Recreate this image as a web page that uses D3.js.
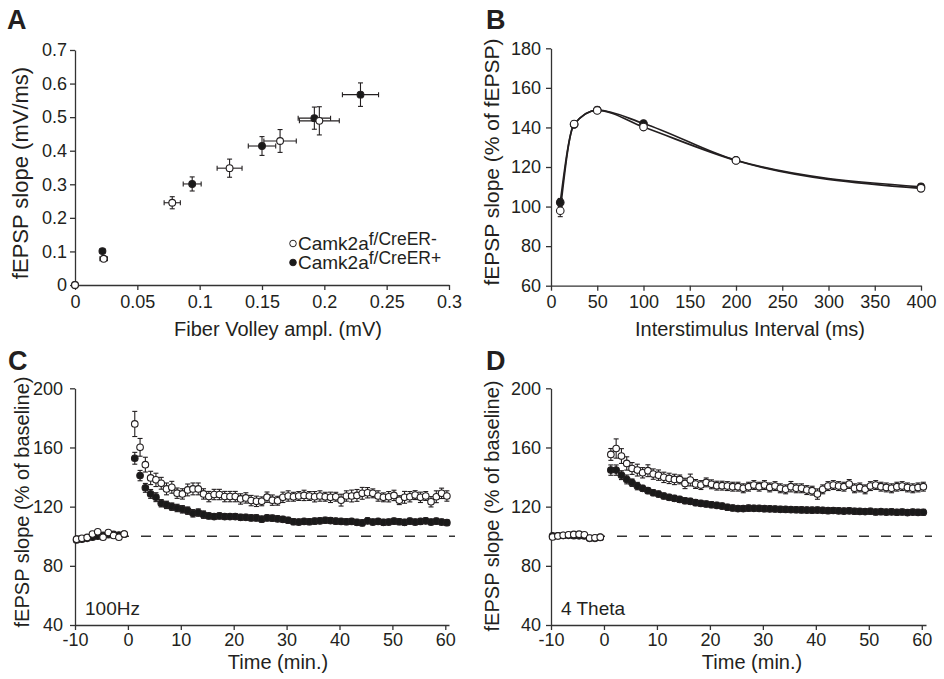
<!DOCTYPE html>
<meta charset="utf-8">
<title>fEPSP panels A-D</title>
<script src="https://d3js.org/d3.v7.min.js"></script>
<style>
  body { margin: 0; background: #fff; }
  svg { font-family: "Liberation Sans", Arial, sans-serif; }
  .axis path, .axis line { stroke: #333; stroke-width: 1.3; }
  .axis text { font-size: 18px; fill: #231f20; font-family: "Liberation Sans", Arial, sans-serif; }
  .title { font-size: 20px; fill: #231f20; }
  .letter { font-size: 27px; font-weight: bold; fill: #231f20; }
  .note { font-size: 19px; fill: #231f20; }
</style>
<body>
<svg class=fig width=944 height=679></svg>
<script>

// ---- panel A : input/output ----
var fvOpen = [0, 0.023, 0.078, 0.124, 0.1645, 0.196];
var fvOpenErr = [0, 0.003, 0.0065, 0.010, 0.013, 0.016];
var slopeOpen = [0, 0.078, 0.245, 0.348, 0.429, 0.489];
var slopeOpenErr = [0, 0.005, 0.018, 0.027, 0.034, 0.042];
var fvFilled = [0, 0.022, 0.094, 0.150, 0.192, 0.229];
var fvFilledErr = [0, 0.002, 0.0072, 0.011, 0.013, 0.0145];
var slopeFilled = [0, 0.101, 0.301, 0.414, 0.497, 0.567];
var slopeFilledErr = [0, 0.005, 0.021, 0.028, 0.033, 0.035];
var aXTicks = [0, 0.05, 0.1, 0.15, 0.2, 0.25, 0.3];
var aYTicks = [0, 0.1, 0.2, 0.3, 0.4, 0.5, 0.6, 0.7];

// ---- panel B : paired pulse ----
var isi = [10, 25, 50, 100, 200, 400];
var ppfOpen = [97.9, 141.7, 148.6, 140.2, 123.3, 109.2];
var ppfOpenErr = [3, 1.5, 1.5, 1.5, 1, 1.5];
var ppfFilled = [102.1, 141.5, 148.8, 142.0, 123.4, 110.0];
var ppfFilledErr = [2, 1.5, 1.5, 1.5, 1, 1.5];
var bXTicks = [0, 50, 100, 150, 200, 250, 300, 350, 400];
var bYTicks = [60, 80, 100, 120, 140, 160, 180];

// ---- panels C and D : LTP time courses ----
var baseTimes = [-9.7, -8.7, -7.7, -6.7, -5.7, -4.7, -3.7, -2.7, -1.7, -0.7];
var postTimes = [1.3, 2.3, 3.3, 4.3, 5.3, 6.3, 7.3, 8.3, 9.3, 10.3,
  11.3, 12.3, 13.3, 14.3, 15.3, 16.3, 17.3, 18.3, 19.3, 20.3,
  21.3, 22.3, 23.3, 24.3, 25.3, 26.3, 27.3, 28.3, 29.3, 30.3,
  31.3, 32.3, 33.3, 34.3, 35.3, 36.3, 37.3, 38.3, 39.3, 40.3,
  41.3, 42.3, 43.3, 44.3, 45.3, 46.3, 47.3, 48.3, 49.3, 50.3,
  51.3, 52.3, 53.3, 54.3, 55.3, 56.3, 57.3, 58.3, 59.3, 60.3];
var timeTicks = [-10, 0, 10, 20, 30, 40, 50, 60];
var ltpYTicks = [40, 80, 120, 160, 200];

// C : 100Hz
var cBaseOpen = [98.0, 98.6, 99.2, 101.5, 103.0, 99.3, 102.5, 100.5, 99.3, 101.5];
var cBaseFilled = [97.5, 98.0, 98.6, 99.3, 100.0, 100.6, 101.0, 101.2, 100.8, 101.4];
var cBaseErr = [1, 1, 1, 1, 1, 1, 1, 1, 1, 1];
var cOpen = [175.9, 160.1, 148.4, 139.4, 138.1, 135.8, 132.0, 133.1, 129.1, 128.6,
  131.3, 132.0, 132.0, 128.6, 126.8, 128.2, 128.2, 126.8, 126.8, 126.8,
  125.2, 125.9, 124.1, 123.6, 123.6, 126.4, 124.4, 124.0, 126.3, 127.2,
  126.7, 127.2, 127.6, 127.2, 126.7, 127.2, 126.7, 126.3, 126.7, 124.4,
  127.2, 127.2, 127.6, 129.0, 129.4, 129.0, 127.2, 126.3, 126.7, 127.6,
  124.4, 126.3, 126.7, 127.8, 126.3, 127.2, 123.3, 126.7, 129.0, 127.2];
var cOpenErr = [8.5, 6, 5, 4.5, 4.5, 4, 4, 4, 3.5, 3.5,
  4, 4, 4, 3.5, 3.5, 3.5, 3.5, 3.5, 3.5, 3.5,
  3.5, 3.5, 3.5, 3.5, 3, 3.5, 3.5, 3, 3.5, 3.5,
  3, 3, 3.5, 3, 3.5, 3.5, 3, 3.5, 3, 4,
  3.5, 4, 4, 4, 3.5, 3, 3.5, 3, 3.5, 3.5,
  3, 4, 3.5, 3, 3.5, 3, 3.5, 4, 3.5, 3.5];
var cFilled = [152.7, 141.0, 132.7, 128.6, 126.4, 122.3, 121.2, 120.0, 119.1, 118.2,
  117.3, 115.5, 116.0, 114.6, 113.7, 113.3, 113.7, 113.3, 113.3, 113.3,
  112.8, 112.8, 112.4, 112.4, 111.5, 112.4, 112.2, 111.8, 111.4, 110.8,
  109.8, 109.6, 110.0, 109.8, 110.2, 110.4, 110.8, 110.6, 110.2, 110.0,
  109.8, 110.0, 109.4, 109.0, 110.4, 109.6, 110.0, 109.4, 109.6, 110.2,
  109.8, 109.4, 110.2, 109.6, 110.0, 110.4, 109.6, 110.2, 109.6, 109.2];
var cFilledErr = [4, 3.5, 3, 3, 3, 2.5, 2.5, 2.5, 2.5, 2.5,
  2.5, 2.5, 2.5, 2.5, 2, 2, 2, 2, 2, 2,
  2, 2, 2, 2, 2, 2, 2, 2, 2, 2,
  2, 2, 2, 2, 2, 2, 2, 2, 2, 2,
  2, 2, 2, 2, 2, 2, 2, 2, 2, 2,
  2, 2, 2, 2, 2, 2, 2, 2, 2, 2];

// D : 4 theta
var dBaseOpen = [99.5, 100.2, 100.6, 101.0, 101.2, 101.4, 101.0, 98.8, 98.9, 99.4];
var dBaseFilled = [100.2, 100.3, 100.5, 100.6, 100.4, 100.3, 100.2, 98.6, 98.6, 99.2];
var dBaseErr = [1, 1, 1, 1, 1, 1, 1, 1, 1, 1];
var dOpen = [155.3, 159.3, 154.2, 149.2, 145.8, 144.7, 142.9, 144.3, 142.0, 141.3,
  139.8, 139.1, 138.4, 138.4, 135.7, 138.0, 135.3, 134.6, 136.4, 135.1,
  134.2, 134.2, 133.9, 133.5, 133.5, 132.4, 133.5, 134.6, 133.5, 134.6,
  133.0, 133.9, 132.4, 131.7, 133.5, 132.4, 132.4, 131.2, 130.8, 128.5,
  131.7, 133.9, 134.6, 133.9, 133.5, 135.3, 132.4, 133.0, 131.7, 133.9,
  134.6, 133.5, 133.0, 132.4, 133.5, 133.9, 133.0, 132.4, 133.0, 133.5];
var dOpenErr = [4, 6.5, 5, 4.5, 4, 4, 3.5, 4, 3.5, 3.5,
  3.5, 3.5, 3.5, 3, 3.5, 4, 3, 3, 3, 3,
  3, 3, 3, 3, 3, 3, 3, 3, 3, 3,
  3, 3, 3, 3, 3.5, 3, 3, 3, 3, 3.5,
  3, 3, 3, 3, 3, 3, 3, 3, 3, 3,
  3, 3, 3, 3, 3, 3, 3, 3, 3, 3];
var dFilled = [144.7, 144.7, 141.3, 138.4, 136.2, 133.9, 132.4, 130.8, 129.4, 128.5,
  127.2, 126.3, 125.6, 124.9, 124.0, 123.6, 122.7, 122.2, 121.8, 121.3,
  120.9, 120.4, 119.6, 119.1, 118.7, 118.7, 119.0, 118.9, 118.8, 118.6,
  118.5, 118.4, 118.2, 118.1, 118.0, 117.9, 117.8, 117.7, 117.6, 117.7,
  117.5, 117.3, 117.4, 117.2, 117.0, 117.2, 116.9, 116.8, 116.7, 116.9,
  116.4, 116.6, 116.3, 116.5, 116.2, 116.4, 116.0, 116.3, 116.1, 116.2];
var dFilledErr = [3.5, 3.5, 3, 3, 2.5, 2.5, 2, 2, 2, 2,
  2, 2, 2, 2, 2, 2, 2, 2, 2, 2,
  2, 2, 2, 2, 2, 2, 2, 2, 2, 2,
  2, 2, 2, 2, 2, 2, 2, 2, 2, 2,
  2, 2, 2, 2, 2, 2, 2, 2, 2, 2,
  2, 2, 2, 2, 2, 2, 2, 2, 2, 2];

var ink = "#231f20";
var svg = d3.select(".fig");
var plain = function(d) { return String(d); };   // hyphen minus, like the original

function drawAxes(x, y, xTicks, yTicks, fmtX, fmtY, padX, padY) {
  var x0 = x.range()[0], y0 = y.range()[0];
  svg.append("g").attr("class", "axis")
    .attr("transform", "translate(0," + y0 + ")")
    .call(d3.axisBottom(x).tickValues(xTicks).tickFormat(fmtX)
      .tickSize(5).tickSizeOuter(0).tickPadding(padX));
  svg.append("g").attr("class", "axis")
    .attr("transform", "translate(" + x0 + ",0)")
    .call(d3.axisLeft(y).tickValues(yTicks).tickFormat(fmtY)
      .tickSize(5).tickSizeOuter(0).tickPadding(padY));
}

function ytitle(txt, xpos, ymid, size) {
  svg.append("text").attr("class", "title")
    .attr("transform", "translate(" + xpos + "," + ymid + ") rotate(-90)")
    .attr("text-anchor", "middle").style("font-size", size + "px").text(txt);
}
function xtitle(txt, xmid, ypos) {
  svg.append("text").attr("class", "title")
    .attr("x", xmid).attr("y", ypos)
    .attr("text-anchor", "middle").text(txt);
}
function letter(txt, x, y) {
  svg.append("text").attr("class", "letter").attr("x", x).attr("y", y).text(txt);
}

// vertical error bars + markers for one series
function series(xs, ys, errs, x, y, filled, r, cap) {
  var pts = xs.map(function(d, i) { return {x: d, y: ys[i], e: errs[i]}; });
  var g = svg.append("g");
  var eb = g.selectAll(".eb").data(pts.filter(function(d) { return d.e > 0; }))
    .enter().append("g").attr("stroke", ink).attr("stroke-width", 1.1);
  eb.append("line")
    .attr("x1", function(d) { return x(d.x); }).attr("x2", function(d) { return x(d.x); })
    .attr("y1", function(d) { return y(d.y - d.e); }).attr("y2", function(d) { return y(d.y + d.e); });
  eb.append("line")
    .attr("x1", function(d) { return x(d.x) - cap; }).attr("x2", function(d) { return x(d.x) + cap; })
    .attr("y1", function(d) { return y(d.y + d.e); }).attr("y2", function(d) { return y(d.y + d.e); });
  eb.append("line")
    .attr("x1", function(d) { return x(d.x) - cap; }).attr("x2", function(d) { return x(d.x) + cap; })
    .attr("y1", function(d) { return y(d.y - d.e); }).attr("y2", function(d) { return y(d.y - d.e); });
  g.selectAll("circle").data(pts).enter().append("circle")
    .attr("cx", function(d) { return x(d.x); })
    .attr("cy", function(d) { return y(d.y); })
    .attr("r", r)
    .attr("fill", filled ? "#1a1a1a" : "#fff")
    .attr("stroke", ink).attr("stroke-width", 1.1);
}

// ================= A =================
var xA = d3.scaleLinear().domain([0, 0.3]).range([75, 449]);
var yA = d3.scaleLinear().domain([0, 0.7]).range([285, 50]);
drawAxes(xA, yA, aXTicks, aYTicks, function(d) { return String(+d.toFixed(2)); },
  function(d) { return String(+d.toFixed(1)); }, 5, 3);

function xErrA(xs, ys, errs) {
  svg.append("g").selectAll("g").data(xs.map(function(d, i) { return {x: d, y: ys[i], e: errs[i]}; })
      .filter(function(d) { return d.e > 0; }))
    .enter().append("g").attr("stroke", ink).attr("stroke-width", 1.1)
    .each(function(d) {
      var g = d3.select(this);
      g.append("line").attr("x1", xA(d.x - d.e)).attr("x2", xA(d.x + d.e)).attr("y1", yA(d.y)).attr("y2", yA(d.y));
      g.append("line").attr("x1", xA(d.x - d.e)).attr("x2", xA(d.x - d.e)).attr("y1", yA(d.y) - 2.5).attr("y2", yA(d.y) + 2.5);
      g.append("line").attr("x1", xA(d.x + d.e)).attr("x2", xA(d.x + d.e)).attr("y1", yA(d.y) - 2.5).attr("y2", yA(d.y) + 2.5);
    });
}
xErrA(fvFilled, slopeFilled, fvFilledErr);
series(fvFilled, slopeFilled, slopeFilledErr, xA, yA, true, 3.4, 2.5);
xErrA(fvOpen, slopeOpen, fvOpenErr);
series(fvOpen, slopeOpen, slopeOpenErr, xA, yA, false, 3.4, 2.5);

ytitle("fEPSP slope (mV/ms)", 28, 173, 22);
xtitle("Fiber Volley ampl. (mV)", 278, 336);
letter("A", 7, 29);

// legend
var legend = [
  {label: "f/CreER-", filled: false, y: 249.5},
  {label: "f/CreER+", filled: true, y: 268.5}
];
legend.forEach(function(l) {
  svg.append("circle").attr("cx", 293).attr("cy", l.y - 6).attr("r", 3.3)
    .attr("fill", l.filled ? "#1a1a1a" : "#fff").attr("stroke", ink).attr("stroke-width", 1);
  var t = svg.append("text").attr("class", "note").attr("x", 298).attr("y", l.y);
  t.append("tspan").text("Camk2a");
  t.append("tspan").attr("dy", -5).style("font-size", "17.5px").text(l.label);
});

// ================= B =================
var xB = d3.scaleLinear().domain([0, 400]).range([551, 921]);
var yB = d3.scaleLinear().domain([60, 180]).range([285.7, 48.3]);
drawAxes(xB, yB, bXTicks, bYTicks, plain, plain, 5, 5);

var lineB = d3.line().curve(d3.curveMonotoneX)
  .x(function(d) { return xB(d[0]); }).y(function(d) { return yB(d[1]); });
svg.append("path").datum(d3.zip(isi, ppfFilled)).attr("d", lineB)
  .attr("fill", "none").attr("stroke", ink).attr("stroke-width", 1.7);
svg.append("path").datum(d3.zip(isi, ppfOpen)).attr("d", lineB)
  .attr("fill", "none").attr("stroke", ink).attr("stroke-width", 1.7);
series(isi, ppfFilled, ppfFilledErr, xB, yB, true, 3.8, 2.5);
series(isi, ppfOpen, ppfOpenErr, xB, yB, false, 3.8, 2.5);

ytitle("fEPSP slope (% of fEPSP)", 499, 162, 21);
xtitle("Interstimulus Interval (ms)", 750, 336);
letter("B", 486, 29);

// ================= C & D =================
function ltpPanel(x, note, baseOpen, baseFilled, baseErr, open, openErr, filled, filledErr, padY) {
  var y = d3.scaleLinear().domain([40, 200]).range([625, 388.3]);
  drawAxes(x, y, timeTicks, ltpYTicks, plain, plain, 3, padY);
  svg.append("line")
    .attr("x1", x.range()[0]).attr("x2", x.range()[1] + 6)
    .attr("y1", y(100)).attr("y2", y(100))
    .attr("stroke", "#333").attr("stroke-width", 1.5).attr("stroke-dasharray", "10,12");
  series(baseTimes, baseFilled, baseErr, x, y, true, 3.3, 2.5);
  series(baseTimes, baseOpen, baseErr, x, y, false, 3.3, 2.5);
  series(postTimes, filled, filledErr, x, y, true, 3.3, 2.5);
  series(postTimes, open, openErr, x, y, false, 3.3, 2.5);
  svg.append("text").attr("class", "note").attr("x", x.range()[0] + 10).attr("y", 615).text(note);
}

var xC = d3.scaleLinear().domain([-10, 60.7]).range([75, 449]);
ltpPanel(xC, "100Hz", cBaseOpen, cBaseFilled, cBaseErr, cOpen, cOpenErr, cFilled, cFilledErr, 7);
ytitle("fEPSP slope (% of baseline)", 29, 502, 20);
xtitle("Time (min.)", 278, 669);
letter("C", 8, 370);

var xD = d3.scaleLinear().domain([-10, 60.8]).range([551, 926]);
ltpPanel(xD, "4 Theta", dBaseOpen, dBaseFilled, dBaseErr, dOpen, dOpenErr, dFilled, dFilledErr, 5);
ytitle("fEPSP slope (% of baseline)", 499, 506, 20);
xtitle("Time (min.)", 752, 669);
letter("D", 486, 370);

</script>
</body>
